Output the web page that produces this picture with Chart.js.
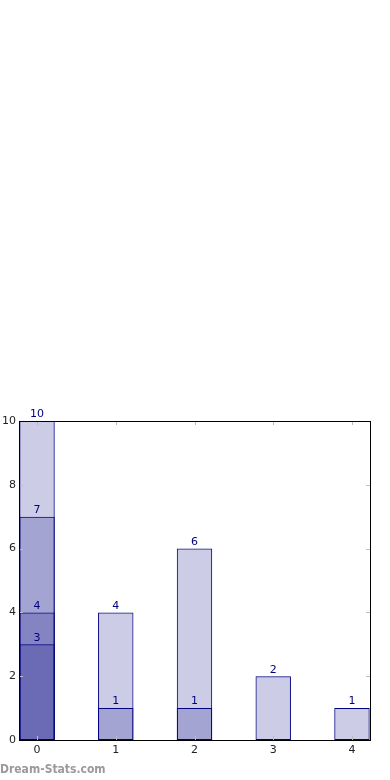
<!DOCTYPE html>
<html>
<head>
    <meta charset="UTF-8">
    <script src="https://cdn.jsdelivr.net/npm/chart.js"></script>
    <style>
        body { margin: 0; background: #fff; }
        #wrap { position: relative; width: 390px; height: 780px; }
        #mark { position: absolute; left: 0; top: 762px; font: bold 12px "DejaVu Sans Condensed", "DejaVu Sans", sans-serif; color: #9a9a9a; }
    </style>
</head>
<body>
    <div id="wrap">
        <canvas id="chart" width="390" height="780"></canvas>
        <div id="mark">Dream-Stats.com</div>
    </div>
    <script>
        // overlapping bars, each series starts at zero
        const categories = [0, 1, 2, 3, 4];
        const layer1 = [10, 4, 6, 2, 1];
        const layer2 = [7, 1, 1, null, null];
        const layer3 = [4, null, null, null, null];
        const layer4 = [3, null, null, null, null];
        const yTicks = [0, 2, 4, 6, 8, 10];

        const navy = '#000080';
        const fill = 'rgba(0,0,128,0.2)';

        function points(values) {
            return categories.map((c, i) => ({ x: c, y: values[i] })).filter(p => p.y !== null);
        }

        const frame = {
            id: 'frame',
            afterDraw(chart) {
                const ctx = chart.ctx, a = chart.chartArea;
                const xs = chart.scales.x, ys = chart.scales.y;
                ctx.save();
                // inward ticks
                ctx.strokeStyle = '#bbbbbb';
                ctx.lineWidth = 1;
                categories.forEach(c => {
                    const px = Math.round(xs.getPixelForValue(c)) + 0.5;
                    ctx.beginPath();
                    ctx.moveTo(px, a.bottom); ctx.lineTo(px, a.bottom - 4);
                    ctx.moveTo(px, a.top); ctx.lineTo(px, a.top + 4);
                    ctx.stroke();
                });
                yTicks.forEach(t => {
                    const py = Math.round(ys.getPixelForValue(t)) + 0.5;
                    ctx.beginPath();
                    ctx.moveTo(a.left, py); ctx.lineTo(a.left + 4, py);
                    ctx.moveTo(a.right, py); ctx.lineTo(a.right - 4, py);
                    ctx.stroke();
                });
                ctx.strokeStyle = '#000';
                ctx.strokeRect(a.left + 0.5, a.top + 0.5, a.right - a.left, a.bottom - a.top);
                // value labels
                ctx.fillStyle = navy;
                ctx.font = '11px "DejaVu Sans"';
                ctx.textAlign = 'center';
                ctx.textBaseline = 'bottom';
                chart.data.datasets.forEach((ds, di) => {
                    chart.getDatasetMeta(di).data.forEach((bar, i) => {
                        ctx.fillText(String(ds.data[i].y), bar.x, bar.y - 1);
                    });
                });
                ctx.restore();
            }
        };

        const ds = (values) => ({
            data: points(values),
            backgroundColor: fill,
            borderColor: navy,
            borderWidth: 1,
            borderSkipped: false,
            grouped: false,
            categoryPercentage: 1,
            barPercentage: 0.45
        });

        new Chart(document.getElementById('chart'), {
            type: 'bar',
            data: { datasets: [ds(layer4), ds(layer3), ds(layer2), ds(layer1)] },
            options: {
                responsive: false,
                animation: false,
                layout: { padding: { top: 421, right: 20, left: 0, bottom: 0 } },
                plugins: { legend: { display: false }, tooltip: { enabled: false } },
                scales: {
                    x: {
                        type: 'linear',
                        offset: false,
                        min: -0.229,
                        max: 4.229,
                        afterBuildTicks: s => { s.ticks = categories.map(v => ({ value: v })); },
                        afterFit: s => { s.height = 40; },
                        grid: { display: false, drawTicks: false, offset: false },
                        border: { display: false },
                        ticks: { padding: 4, color: '#222', font: { family: 'DejaVu Sans', size: 11 } }
                    },
                    y: {
                        min: 0,
                        max: 10,
                        afterBuildTicks: s => { s.ticks = yTicks.map(v => ({ value: v })); },
                        afterFit: s => { s.width = 19; },
                        grid: { display: false, drawTicks: false },
                        border: { display: false },
                        ticks: { padding: 3, color: '#222', font: { family: 'DejaVu Sans', size: 11 } }
                    }
                }
            },
            plugins: [frame]
        });
    </script>
</body>
</html>
